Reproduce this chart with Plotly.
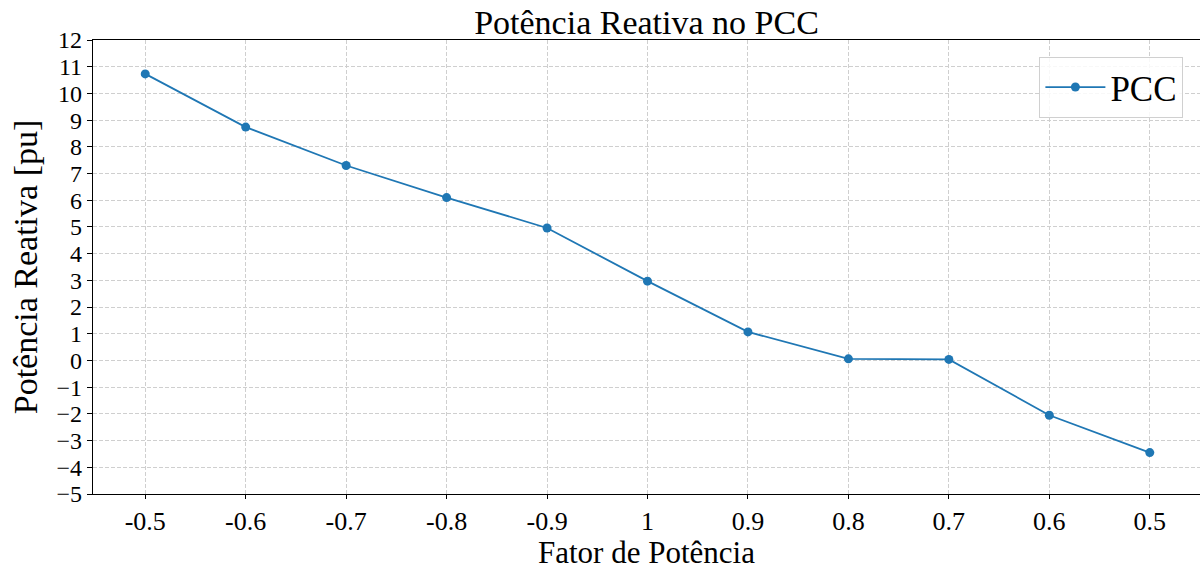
import plotly.graph_objects as go

categories = ["-0.5", "-0.6", "-0.7", "-0.8", "-0.9", "1", "0.9", "0.8", "0.7", "0.6", "0.5"]
pcc_values = [10.73, 8.74, 7.30, 6.10, 4.96, 2.97, 1.07, 0.06, 0.04, -2.05, -3.45]
y_ticks = list(range(-5, 13))

FONT = "Liberation Serif"
BLUE = "#1f77b4"
GRID = "#cfcfcf"

fig = go.Figure()
fig.add_trace(go.Scatter(
    x=categories, y=pcc_values, mode="lines+markers", name="PCC",
    line=dict(color=BLUE, width=1.8),
    marker=dict(color=BLUE, size=9),
))

fig.update_layout(
    width=1200, height=571,
    margin=dict(l=93, r=0, t=40, b=77),
    paper_bgcolor="white", plot_bgcolor="white",
    font=dict(family=FONT, color="black"),
    title=dict(text="Potência Reativa no PCC", x=0.5, xanchor="center", xref="paper",
               y=0.962, yref="container", yanchor="middle",
               font=dict(size=34, family=FONT, color="black")),
    showlegend=True,
    legend=dict(x=0.985, xanchor="right", y=0.963, yanchor="top",
                bgcolor="rgba(255,255,255,0.85)", bordercolor="#d0d0d0", borderwidth=1,
                font=dict(size=35, family=FONT, color="black"),
                itemwidth=60),
    annotations=[dict(text="Fator de Potência", xref="paper", yref="paper",
                      x=0.5, y=-0.1696, xanchor="center", yanchor="bottom",
                      borderpad=0, showarrow=False,
                      font=dict(size=31, family=FONT, color="black"))],
)

fig.update_xaxes(
    type="category", range=[-0.52, 10.5],
    tickmode="array", tickvals=categories, ticktext=categories,
    tickfont=dict(size=26, family=FONT, color="black"),
    ticks="outside", ticklen=4, tickwidth=1, tickcolor="black",
    ticklabelstandoff=0,
    showline=True, linecolor="black", linewidth=1.2, mirror=True,
    showgrid=True, gridcolor=GRID, griddash="4px,2px", gridwidth=1,
    zeroline=False,
)
fig.update_yaxes(
    range=[-5, 12], tickmode="array", tickvals=y_ticks,
    tickfont=dict(size=24, family=FONT, color="black"),
    ticks="outside", ticklen=5, tickwidth=1, tickcolor="black",
    showline=True, linecolor="black", linewidth=1.2, mirror=True,
    showgrid=True, gridcolor=GRID, griddash="4px,2px", gridwidth=1,
    title=dict(text="Potência Reativa [pu]", font=dict(size=34, family=FONT, color="black"), standoff=8),
    zeroline=False,
)

fig.write_html("out.html")
